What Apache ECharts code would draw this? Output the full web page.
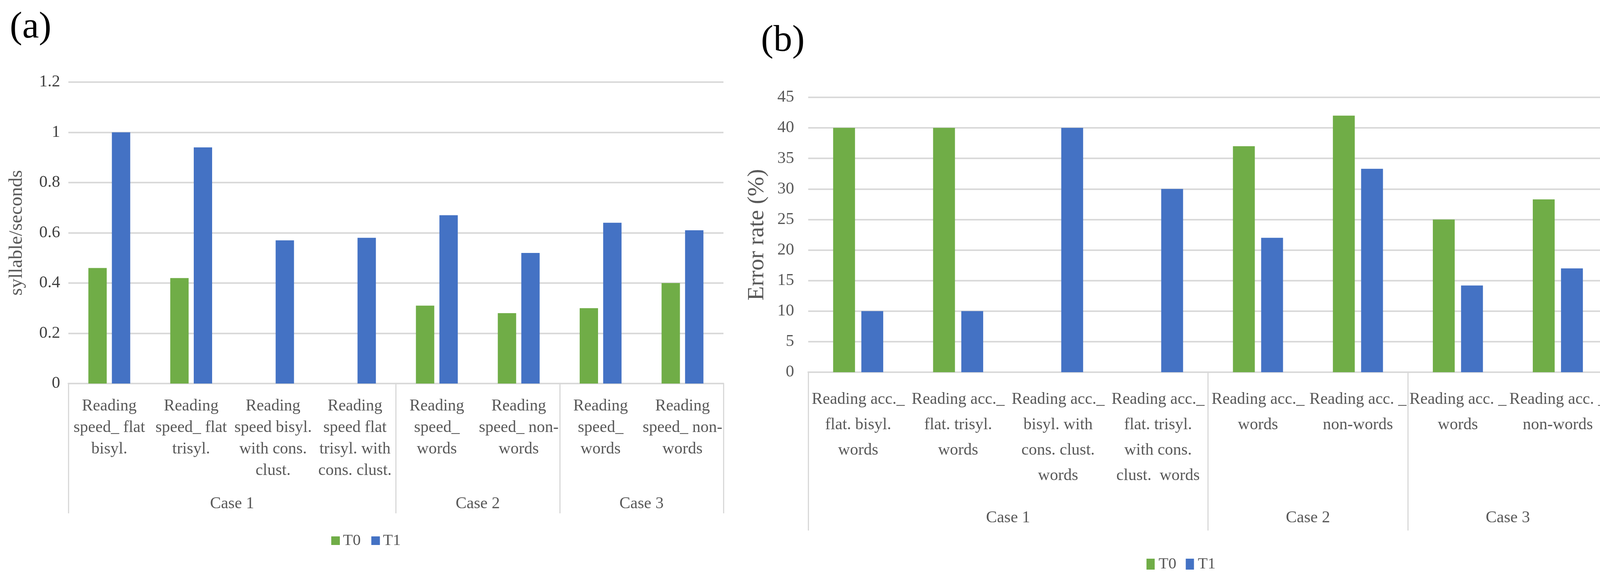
<!DOCTYPE html>
<html>
<head>
<meta charset="utf-8">
<script src="https://cdn.jsdelivr.net/npm/echarts@6/dist/echarts.min.js"></script>
<style>
html,body{margin:0;padding:0;background:#ffffff;}
#c{width:4150px;height:1481px;}
</style>
</head>
<body>
<div id="c"></div>
<script>
// ---------- data ----------
const categoriesA = [
  'Reading\nspeed_ flat\nbisyl.',
  'Reading\nspeed_ flat\ntrisyl.',
  'Reading\nspeed bisyl.\nwith cons.\nclust.',
  'Reading\nspeed flat\ntrisyl. with\ncons. clust.',
  'Reading\nspeed_\nwords',
  'Reading\nspeed_ non-\nwords',
  'Reading\nspeed_\nwords',
  'Reading\nspeed_ non-\nwords'
];
const t0A = [0.46, 0.42, 0, 0, 0.31, 0.28, 0.30, 0.40];
const t1A = [1.00, 0.94, 0.57, 0.58, 0.67, 0.52, 0.64, 0.61];

const categoriesB = [
  'Reading acc._\nflat. bisyl.\nwords',
  'Reading acc._\nflat. trisyl.\nwords',
  'Reading acc._\nbisyl. with\ncons. clust.\nwords',
  'Reading acc._\nflat. trisyl.\nwith cons.\nclust.  words',
  'Reading acc._\nwords',
  'Reading acc. _\nnon-words',
  'Reading acc. _\nwords',
  'Reading acc. _\nnon-words'
];
const t0B = [40, 40, 0, 0, 37, 42, 25, 28.3];
const t1B = [10, 10, 40, 30, 22, 33.3, 14.2, 17];

const caseNames = ['Case 1', 'Case 2', 'Case 3'];
const caseSizes = [4, 2, 2];
const seriesNames = ['T0', 'T1'];
const panelLabels = ['(a)', '(b)'];
const yNameA = 'syllable/seconds';
const yNameB = 'Error rate (%)';
const yTicksA = {min: 0, max: 1.2, step: 0.2};
const yTicksB = {min: 0, max: 45, step: 5};

// ---------- derived ----------
const bounds = [0];
caseSizes.forEach(s => bounds.push(bounds[bounds.length - 1] + s));
const centers = caseSizes.map((s, i) => bounds[i] + s / 2);
const nCat = bounds[bounds.length - 1];
function caseLabel(v) {
  const i = centers.findIndex(c => Math.abs(c - v) < 1e-6);
  return i >= 0 ? caseNames[i] : '';
}

const FONT = 'Liberation Serif';
const GREEN = '#70AD47';
const BLUE = '#4472C4';
const GRID = '#D9D9D9';
const TXT = '#595959';

const chart = echarts.init(document.getElementById('c'), null, {renderer: 'canvas'});

function catAxis(gridIndex, data, margin, lineHeight) {
  return {
    type: 'category', gridIndex: gridIndex, data: data,
    axisLine: {show: true, lineStyle: {color: GRID, width: 4}},
    axisTick: {show: false},
    axisLabel: {interval: 0, margin: margin, fontFamily: FONT, fontSize: 42,
      lineHeight: lineHeight, color: TXT, align: 'center', hideOverlap: false}
  };
}
function caseAxis(gridIndex, tickLen, labelMargin) {
  return {
    type: 'value', gridIndex: gridIndex, min: 0, max: nCat, position: 'bottom',
    axisLine: {show: false}, splitLine: {show: false},
    axisTick: {show: true, customValues: bounds, length: tickLen, inside: false,
      lineStyle: {color: GRID, width: 3}},
    axisLabel: {show: true, customValues: centers, formatter: caseLabel, margin: labelMargin,
      fontFamily: FONT, fontSize: 42, lineHeight: 42, color: TXT}
  };
}

const option = {
  backgroundColor: '#ffffff',
  animation: false,
  title: [
    {text: panelLabels[0], left: 25, top: 23, padding: 0,
      textStyle: {fontFamily: FONT, fontSize: 96, lineHeight: 96, fontWeight: 'normal', color: '#000'}},
    {text: panelLabels[1], left: 1948, top: 57, padding: 0,
      textStyle: {fontFamily: FONT, fontSize: 96, lineHeight: 96, fontWeight: 'normal', color: '#000'}}
  ],
  legend: [
    {data: seriesNames, left: 848, top: 1361, padding: 0, icon: 'rect',
      itemWidth: 22, itemHeight: 22, itemGap: 27,
      textStyle: {fontFamily: FONT, fontSize: 41, lineHeight: 44, color: TXT, padding: [0, 0, 0, 3]}},
    {data: seriesNames, left: 2935, top: 1421, padding: 0, icon: 'rect',
      itemWidth: 21, itemHeight: 28, itemGap: 24,
      textStyle: {fontFamily: FONT, fontSize: 41, lineHeight: 44, color: TXT, padding: [0, 0, 0, 5]}}
  ],
  grid: [
    {left: 175, top: 210, width: 1677, height: 771},
    {left: 2069, top: 249, width: 2047, height: 703}
  ],
  xAxis: [
    catAxis(0, categoriesA, 30, 55),
    caseAxis(0, 332, 287),
    catAxis(1, categoriesB, 37, 65),
    caseAxis(1, 405, 352)
  ],
  yAxis: [
    {type: 'value', gridIndex: 0, min: yTicksA.min, max: yTicksA.max, interval: yTicksA.step,
      axisLine: {show: false}, axisTick: {show: false},
      splitLine: {show: true, lineStyle: {color: GRID, width: 4}},
      axisLabel: {margin: 21, fontFamily: FONT, fontSize: 43, color: '#404040', padding: [0, 0, 36, 0]},
      name: yNameA, nameLocation: 'middle', nameGap: 107, nameRotate: 90,
      nameTextStyle: {fontFamily: FONT, fontSize: 49, color: TXT}},
    {type: 'value', gridIndex: 1, min: yTicksB.min, max: yTicksB.max, interval: yTicksB.step,
      axisLine: {show: false}, axisTick: {show: false},
      splitLine: {show: true, lineStyle: {color: GRID, width: 4}},
      axisLabel: {margin: 36, fontFamily: FONT, fontSize: 43, color: TXT},
      name: yNameB, nameLocation: 'middle', nameGap: 101, nameRotate: 90,
      nameTextStyle: {fontFamily: FONT, fontSize: 60, color: TXT}}
  ],
  series: [
    {name: seriesNames[0], type: 'bar', xAxisIndex: 0, yAxisIndex: 0, data: t0A,
      barWidth: 47, barGap: '28%', itemStyle: {color: GREEN}},
    {name: seriesNames[1], type: 'bar', xAxisIndex: 0, yAxisIndex: 0, data: t1A,
      barWidth: 47, barGap: '28%', itemStyle: {color: BLUE}},
    {name: seriesNames[0], type: 'bar', xAxisIndex: 2, yAxisIndex: 1, data: t0B,
      barWidth: 56, barGap: '29%', itemStyle: {color: GREEN}},
    {name: seriesNames[1], type: 'bar', xAxisIndex: 2, yAxisIndex: 1, data: t1B,
      barWidth: 56, barGap: '29%', itemStyle: {color: BLUE}}
  ]
};
chart.setOption(option);
</script>
</body>
</html>
